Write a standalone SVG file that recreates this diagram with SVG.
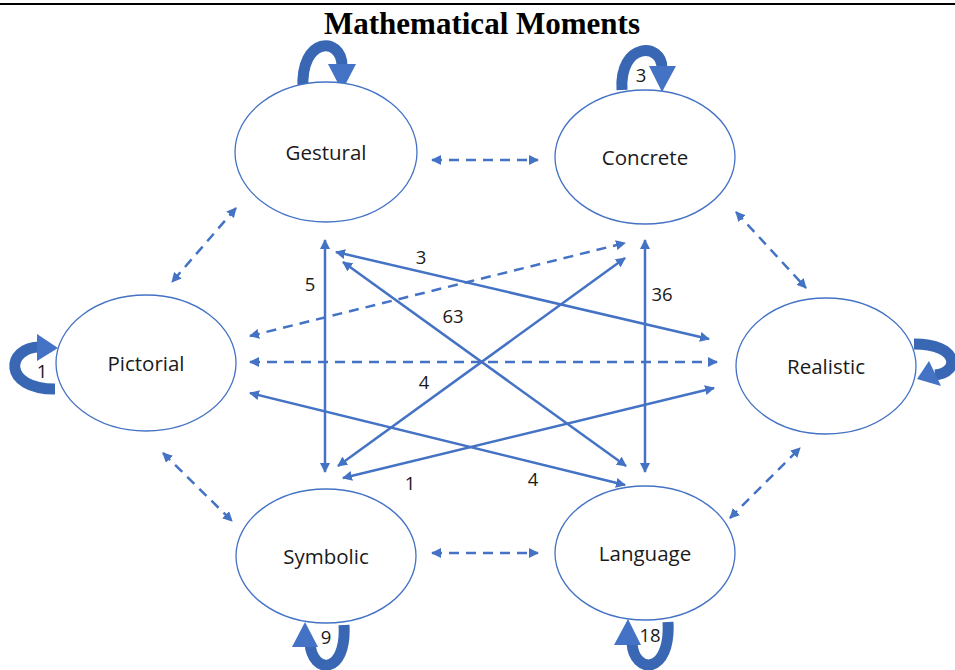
<svg xmlns="http://www.w3.org/2000/svg" width="955" height="670" viewBox="0 0 955 670">
<defs>
<marker id="ah" viewBox="0 0 10 10" refX="9" refY="5" markerWidth="4" markerHeight="4" orient="auto-start-reverse" markerUnits="strokeWidth">
<path d="M0,0 L10,5 L0,10 z" fill="#4472C4"/>
</marker>
<style>
.node ellipse{fill:#fff;stroke:#4472C4;stroke-width:1.3}
.node text{font-family:"Open Sans","Noto Sans","Liberation Sans",sans-serif;font-size:20.5px;fill:#1a1a1a;text-anchor:middle}
.ln{stroke:#4472C4;stroke-width:2.5;fill:none;marker-start:url(#ah);marker-end:url(#ah)}
.d{stroke-dasharray:10 7}
.lbl{font-family:"Open Sans","Noto Sans","Liberation Sans",sans-serif;font-size:18.5px;fill:#1a1a1a;text-anchor:middle}
.loop{stroke:#3A67B4;stroke-width:11;fill:none}
.head{fill:#4472C4}
</style>
</defs>
<rect width="955" height="670" fill="#fff"/>
<line x1="0" y1="4" x2="955" y2="4" stroke="#000" stroke-width="2"/>
<text x="482" y="34" font-family="'Liberation Serif',serif" font-weight="bold" font-size="31" text-anchor="middle">Mathematical Moments</text>

<g id="connectors">
<line class="ln d" x1="432" y1="160" x2="538" y2="160"/>
<line class="ln d" x1="432" y1="553" x2="538" y2="553"/>
<line class="ln d" x1="236" y1="208" x2="172" y2="282"/>
<line class="ln d" x1="736" y1="212" x2="806" y2="288"/>
<line class="ln d" x1="163" y1="453" x2="232" y2="521"/>
<line class="ln d" x1="730" y1="518" x2="800" y2="448"/>
<line class="ln d" x1="250" y1="336" x2="625" y2="243"/>
<line class="ln d" x1="250" y1="362" x2="717" y2="362"/>
<line class="ln" x1="325" y1="240" x2="325" y2="472"/>
<line class="ln" x1="645" y1="240" x2="645" y2="472"/>
<line class="ln" x1="336" y1="252" x2="709" y2="339"/>
<line class="ln" x1="343" y1="262" x2="626" y2="466"/>
<line class="ln" x1="625" y1="258" x2="338" y2="466"/>
<line class="ln" x1="714" y1="388" x2="343" y2="478"/>
<line class="ln" x1="250" y1="393" x2="625" y2="485"/>
<text class="lbl" x="421" y="264">3</text>
<text class="lbl" x="310" y="291">5</text>
<text class="lbl" x="453" y="323">63</text>
<text class="lbl" x="662" y="301">36</text>
<text class="lbl" x="424" y="389">4</text>
<text class="lbl" x="410" y="490">1</text>
<text class="lbl" x="533" y="486">4</text>
</g>

<g id="loops">
<path class="loop" d="M303,89 C300,36 342,36 342,66"/>
<polygon class="head" points="328,64 356,64 342,91"/>
<path class="loop" d="M622,90 C619,42 662,42 662,68"/>
<polygon class="head" points="649,66 676,66 662,92"/>
<path class="loop" d="M40,347 C6,347 2,389 55,389"/>
<polygon class="head" points="37,334 58,348 37,361"/>
<path class="loop" d="M914,344 C960,344 960,373 935,375"/>
<polygon class="head" points="929,361 941,386 917,379"/>
<path class="loop" d="M310,643 C312,675 347,675 344,625"/>
<polygon class="head" points="292,647 318,647 305,622"/>
<path class="loop" d="M632,643 C634,675 671,675 668,622"/>
<polygon class="head" points="614,645 641,645 628,619"/>
<text class="lbl" x="641" y="82" font-size="16">3</text>
<text class="lbl" x="42" y="378" font-size="16">1</text>
<text class="lbl" x="326" y="644" font-size="16">9</text>
<text class="lbl" x="650" y="642" font-size="16">18</text>
</g>

<g id="gestural" class="node"><ellipse cx="326" cy="152" rx="91" ry="70"/><text x="326" y="160">Gestural</text></g>
<g id="concrete" class="node"><ellipse cx="645" cy="157" rx="90" ry="67"/><text x="645" y="165">Concrete</text></g>
<g id="pictorial" class="node"><ellipse cx="146" cy="363" rx="90" ry="68"/><text x="146" y="371">Pictorial</text></g>
<g id="realistic" class="node"><ellipse cx="826" cy="366" rx="90" ry="68"/><text x="826" y="374">Realistic</text></g>
<g id="symbolic" class="node"><ellipse cx="326" cy="556" rx="90" ry="67"/><text x="326" y="564">Symbolic</text></g>
<g id="language" class="node"><ellipse cx="645" cy="553" rx="90" ry="67"/><text x="645" y="561">Language</text></g>
</svg>
